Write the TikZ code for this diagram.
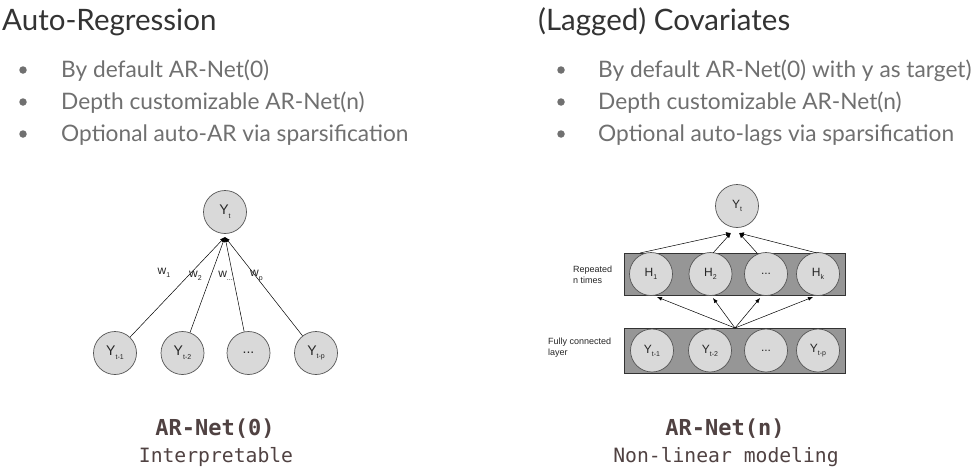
\documentclass[tikz,border=0pt]{standalone}
\usepackage{fontspec}
\setmainfont{Lato}
\newfontfamily\arialf{Liberation Sans}
\newfontfamily\monof{DejaVu Sans Mono}
\usetikzlibrary{arrows.meta,calc}
\definecolor{titlec}{RGB}{51,51,51}
\definecolor{bulletc}{RGB}{112,112,112}
\definecolor{nodefill}{RGB}{217,217,217}
\definecolor{nodeline}{RGB}{85,85,85}
\definecolor{rectfill}{RGB}{150,150,150}
\definecolor{monoc}{RGB}{80,66,66}
\newcommand\lsub[1]{\raisebox{-0.5ex}{\fontsize{7}{8}\selectfont #1}}
\tikzset{
  title/.style={anchor=base west, text=titlec, font=\fontsize{29.5}{33}\selectfont, inner sep=0pt},
  btext/.style={anchor=base west, text=bulletc, font=\fontsize{22.7}{26}\selectfont, inner sep=0pt},
  bdot/.style={circle, fill=bulletc, minimum size=7.5pt, inner sep=0pt},
  neuron/.style={circle, draw=nodeline, fill=nodefill, line width=0.7pt, minimum size=43pt, inner sep=0pt, text=black!85, font=\arialf\fontsize{14}{15}\selectfont},
  neuronr/.style={neuron, font=\arialf\fontsize{12}{13}\selectfont},
  layer/.style={draw=black!80, fill=rectfill, line width=0.7pt, minimum width=221pt, inner sep=0pt},
  arr/.style={-{Latex[length=5pt,width=4pt]}, line width=0.5pt, black},
  wlab/.style={font=\arialf\fontsize{12}{13}\selectfont, text=black!85, inner sep=0pt},
  side/.style={font=\arialf\fontsize{9}{11}\selectfont, text=black!85, align=left, anchor=base west, inner sep=0pt},
  monob/.style={anchor=base, text=monoc, font=\monof\bfseries\fontsize{22}{24}\selectfont, inner sep=0pt},
  monor/.style={anchor=base, text=monoc, font=\monof\fontsize{19.7}{22}\selectfont, inner sep=0pt}
}
\begin{document}
\begin{tikzpicture}[x=1pt,y=-1pt]
\fill[white] (0,0) rectangle (976,471);
\useasboundingbox (0,0) rectangle (976,471);
% ---------- left text ----------
\node[title] (t1) at (2,30) {Auto-Regression};
\node[bdot] (d11) at (23,70) {};
\node[bdot] (d12) at (23,102) {};
\node[bdot] (d13) at (23,134) {};
\node[btext] (b11) at (61,77) {By default AR-Net(0)};
\node[btext] (b12) at (61,109) {Depth customizable AR-Net(n)};
\node[btext] (b13) at (61,141) {Optional auto-AR via sparsification};
% ---------- right text ----------
\node[title] (t2) at (538,30) {(Lagged) Covariates};
\node[bdot] (d21) at (561,70) {};
\node[bdot] (d22) at (561,102) {};
\node[bdot] (d23) at (561,134) {};
\node[btext] (b21) at (598,77) {By default AR-Net(0) with y as target)};
\node[btext] (b22) at (598,109) {Depth customizable AR-Net(n)};
\node[btext] (b23) at (598,141) {Optional auto-lags via sparsification};
% ---------- left diagram ----------
\node[neuron] (yt) at (225,212) {Y\lsub{t}};
\node[neuron] (l1) at (115,353) {Y\lsub{t-1}};
\node[neuron] (l2) at (182.5,353) {Y\lsub{t-2}};
\node[neuron] (l3) at (248.5,353) {...};
\node[neuron] (l4) at (316,353) {Y\lsub{t-p}};
\coordinate (apex) at (225,237);
\draw[arr] (l1) -- (apex);
\draw[arr] (l2) -- (apex);
\draw[arr] (l3) -- (apex);
\draw[arr] (l4) -- (apex);
\node[wlab] (w1) at (164,272.5) {w\lsub{1}};
\node[wlab] (w2) at (195.5,276) {w\lsub{2}};
\node[wlab] (w3) at (225.5,275.5) {w\lsub{...}};
\node[wlab] (w4) at (256.5,276) {w\lsub{p}};
% ---------- right diagram ----------
\node[layer, minimum height=42pt] (hrect) at (734.5,274) {};
\node[layer, minimum height=45pt] (yrect) at (734.5,350.5) {};
\node[neuronr] (yt2) at (737,206) {Y\lsub{t}};
\node[neuronr] (h1) at (651,274) {H\lsub{1}};
\node[neuronr] (h2) at (710.5,274) {H\lsub{2}};
\node[neuronr] (h3) at (766,274) {...};
\node[neuronr] (h4) at (818,274) {H\lsub{k}};
\node[neuronr] (y1) at (652,350.5) {Y\lsub{t-1}};
\node[neuronr] (y2) at (710,350.5) {Y\lsub{t-2}};
\node[neuronr] (y3) at (766,350.5) {...};
\node[neuronr] (y4) at (818,350.5) {Y\lsub{t-p}};
\coordinate (s1) at (640,253);
\coordinate (s2) at (713,253);
\coordinate (s3) at (757,253);
\coordinate (s4) at (817,253);
\coordinate (tl) at (731,233);
\coordinate (tr) at (739,233);
\draw[arr] (s1) -- (tl);
\draw[arr] (s2) -- (tl);
\draw[arr] (s3) -- (tr);
\draw[arr] (s4) -- (tr);
\coordinate (src) at (735,328);
\coordinate (e1) at (657,297);
\coordinate (e2) at (713,298);
\coordinate (e3) at (760,298);
\coordinate (e4) at (813,297);
\draw[arr] (src) -- (e1);
\draw[arr] (src) -- (e2);
\draw[arr] (src) -- (e3);
\draw[arr] (src) -- (e4);
\node[side] (rep) at (573,283) {Repeated\\n times};
\node[side] (fc) at (548,355) {Fully connected\\layer};
% ---------- captions ----------
\node[monob] (c1) at (215,435) {AR-Net(0)};
\node[monor] (c2) at (216,462) {Interpretable};
\node[monob] (c3) at (725,435) {AR-Net(n)};
\node[monor] (c4) at (726,462) {Non-linear modeling};
\end{tikzpicture}
\end{document}
